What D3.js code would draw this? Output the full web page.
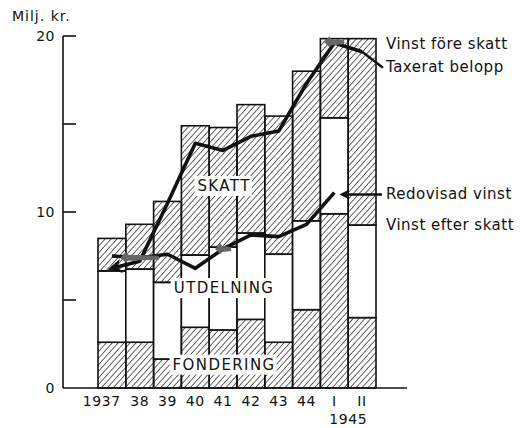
<!DOCTYPE html>
<html>
<head>
<meta charset="utf-8">
<script src="https://cdn.jsdelivr.net/npm/d3@7"></script>
<style>
  body { margin: 0; background: #fff; }
  svg text { font-family: "DejaVu Sans", sans-serif; fill: #111; }
</style>
</head>
<body>
<svg></svg>
<script>
const width = 520;
const height = 428;

// values (Milj. kr.)
const years = ["1937", "38", "39", "40", "41", "42", "43", "44", "I", "II"];
const fondering = [2.6, 2.6, 1.65, 3.45, 3.3, 3.9, 2.6, 4.45, 9.9, 4.0];
const efterSkatt = [6.65, 6.75, 6.0, 7.55, 8.0, 8.8, 7.6, 9.5, 15.35, 9.25];
const foreSkatt = [8.5, 9.3, 10.6, 14.9, 14.8, 16.1, 15.45, 18.0, 19.85, 19.85];
const taxerat = [6.8, 7.2, 10.5, 13.9, 13.5, 14.3, 14.6, 17.3, 19.6, 19.1];
const redovisad = [7.5, 7.4, 7.6, 6.8, 7.9, 8.7, 8.6, 9.3, 11.1, null];
const yTicks = [0, 5, 10, 15, 20];
const yLabels = [0, 10, 20];

const svg = d3.select("svg")
    .attr("width", width)
    .attr("height", height);

const x = d3.scaleBand().domain(years).range([98, 376]).padding(0);
const y = d3.scaleLinear().domain([0, 20]).range([388, 36]);

// hatch pattern
const defs = svg.append("defs");
defs.append("pattern")
    .attr("id", "hatch")
    .attr("patternUnits", "userSpaceOnUse")
    .attr("width", 4.4)
    .attr("height", 4.4)
    .attr("patternTransform", "rotate(42)")
  .append("line")
    .attr("x1", 0).attr("y1", 0)
    .attr("x2", 0).attr("y2", 4.4)
    .attr("stroke", "#111")
    .attr("stroke-width", 1.3);

defs.append("marker")
    .attr("id", "head")
    .attr("viewBox", "0 0 10 10")
    .attr("refX", 7).attr("refY", 5)
    .attr("markerWidth", 4).attr("markerHeight", 4)
    .attr("orient", "auto-start-reverse")
  .append("path")
    .attr("d", "M0,0 L10,5 L0,10 L3,5 z")
    .attr("fill", "#111");

// ---------------- bars ----------------
const segs = [];
years.forEach((yr, i) => {
    segs.push({ yr, lo: 0, hi: fondering[i], fill: "url(#hatch)" });
    segs.push({ yr, lo: fondering[i], hi: efterSkatt[i], fill: "#fff" });
    segs.push({ yr, lo: efterSkatt[i], hi: foreSkatt[i], fill: "url(#hatch)" });
});

svg.append("g")
    .selectAll("rect")
    .data(segs)
    .enter().append("rect")
    .attr("x", d => x(d.yr))
    .attr("y", d => y(d.hi))
    .attr("width", x.bandwidth())
    .attr("height", d => y(d.lo) - y(d.hi))
    .attr("fill", d => d.fill)
    .attr("stroke", "#111")
    .attr("stroke-width", 1.6);

// ---------------- inside labels with white boxes ----------------
const inner = [
    { text: "SKATT", yr: "41", v: 11.5 },
    { text: "UTDELNING", yr: "41", v: 5.7 },
    { text: "FONDERING", yr: "41", v: 1.35 }
];
const innerG = svg.append("g");
inner.forEach(d => {
    const t = innerG.append("text")
        .attr("x", x(d.yr) + x.bandwidth() / 2 + 1)
        .attr("y", y(d.v))
        .attr("dy", "0.36em")
        .attr("text-anchor", "middle")
        .style("font-size", "15px")
        .style("letter-spacing", "1.4px")
        .text(d.text);
    const bb = t.node().getBBox();
    innerG.insert("rect", "text")
        .attr("x", bb.x - 3)
        .attr("y", bb.y - 1)
        .attr("width", bb.width + 4)
        .attr("height", bb.height + 2)
        .attr("fill", "#fff");
});

// ---------------- lines ----------------
const cx = d => x(d) + x.bandwidth() / 2;

const taxLine = d3.line()
    .x((d, i) => cx(years[i]))
    .y(d => y(d));

svg.append("path")
    .datum(taxerat)
    .attr("d", taxLine)
    .attr("fill", "none")
    .attr("stroke", "#111")
    .attr("stroke-width", 3.6)
    .attr("stroke-linejoin", "round")
    .attr("marker-start", "url(#head)");

const redLine = d3.line()
    .defined(d => d != null)
    .x((d, i) => cx(years[i]))
    .y(d => y(d));

svg.append("path")
    .datum(redovisad)
    .attr("d", redLine)
    .attr("fill", "none")
    .attr("stroke", "#111")
    .attr("stroke-width", 3.6)
    .attr("stroke-linejoin", "round");

// grey pointer smudges
const smudges = [
    { yr: "38", v: 7.4, len: 38 },
    { yr: "41", v: 7.9, len: 16 },
    { yr: "I", v: 19.65, len: 20 }
];
svg.append("g")
    .selectAll("path")
    .data(smudges)
    .enter().append("path")
    .attr("d", d => {
        const x0 = cx(d.yr) + d.len / 2, yy = y(d.v);
        const x1 = x0 - d.len;
        return `M${x0},${yy - 2} L${x1 + 7},${yy - 3} L${x1 + 5},${yy - 6} L${x1},${yy} L${x1 + 5},${yy + 5} L${x1 + 7},${yy + 3} L${x0},${yy + 2} Z`;
    })
    .attr("fill", "#666");

// ---------------- axis ----------------
const axisG = svg.append("g");
axisG.append("line")
    .attr("x1", 63).attr("x2", 63)
    .attr("y1", y(20)).attr("y2", y(0))
    .attr("stroke", "#111").attr("stroke-width", 1.6);
axisG.append("line")
    .attr("x1", 63).attr("x2", 407)
    .attr("y1", y(0)).attr("y2", y(0))
    .attr("stroke", "#111").attr("stroke-width", 1.6);
axisG.selectAll(".tick")
    .data(yTicks.filter(v => v > 0))
    .enter().append("line")
    .attr("x1", 63).attr("x2", 76)
    .attr("y1", d => y(d)).attr("y2", d => y(d))
    .attr("stroke", "#111").attr("stroke-width", 1.6);
axisG.selectAll(".ylab")
    .data(yLabels)
    .enter().append("text")
    .attr("x", 55)
    .attr("y", d => y(d))
    .attr("dy", "0.36em")
    .attr("text-anchor", "end")
    .style("font-size", "14px")
    .style("letter-spacing", "0.5px")
    .text(d => d);

svg.append("text")
    .attr("x", 12).attr("y", 21)
    .style("font-size", "14px")
    .style("letter-spacing", "1px")
    .text("Milj. kr.");

// x labels
svg.append("g")
    .selectAll("text")
    .data(years)
    .enter().append("text")
    .attr("x", (d, i) => i === 0 ? x(d) + x.bandwidth() - 5 : cx(d))
    .attr("y", 406)
    .attr("text-anchor", (d, i) => i === 0 ? "end" : "middle")
    .style("font-size", "14px")
    .style("letter-spacing", "0.6px")
    .text(d => d);

svg.append("text")
    .attr("x", x("I") + x.bandwidth())
    .attr("y", 424)
    .attr("text-anchor", "middle")
    .style("font-size", "14px")
    .style("letter-spacing", "0.6px")
    .text("1945");

// ---------------- right labels ----------------
const lastX = cx("II");
svg.append("line")
    .attr("x1", lastX).attr("y1", y(taxerat[9]))
    .attr("x2", 383).attr("y2", y(18.2))
    .attr("stroke", "#111").attr("stroke-width", 2.5);

svg.append("line")
    .attr("x1", 382).attr("y1", y(11.0))
    .attr("x2", cx("I") + 8).attr("y2", y(11.0))
    .attr("stroke", "#111").attr("stroke-width", 2.5)
    .attr("marker-end", "url(#head)");

const rightLabels = [
    { text: "Vinst före skatt", v: 19.55 },
    { text: "Taxerat belopp", v: 18.25 },
    { text: "Redovisad vinst", v: 11.05 },
    { text: "Vinst efter skatt", v: 9.3 }
];
svg.append("g")
    .selectAll("text")
    .data(rightLabels)
    .enter().append("text")
    .attr("x", 386)
    .attr("y", d => y(d.v))
    .attr("dy", "0.36em")
    .style("font-size", "15px")
    .style("letter-spacing", "0.5px")
    .text(d => d.text);
</script>
</body>
</html>
